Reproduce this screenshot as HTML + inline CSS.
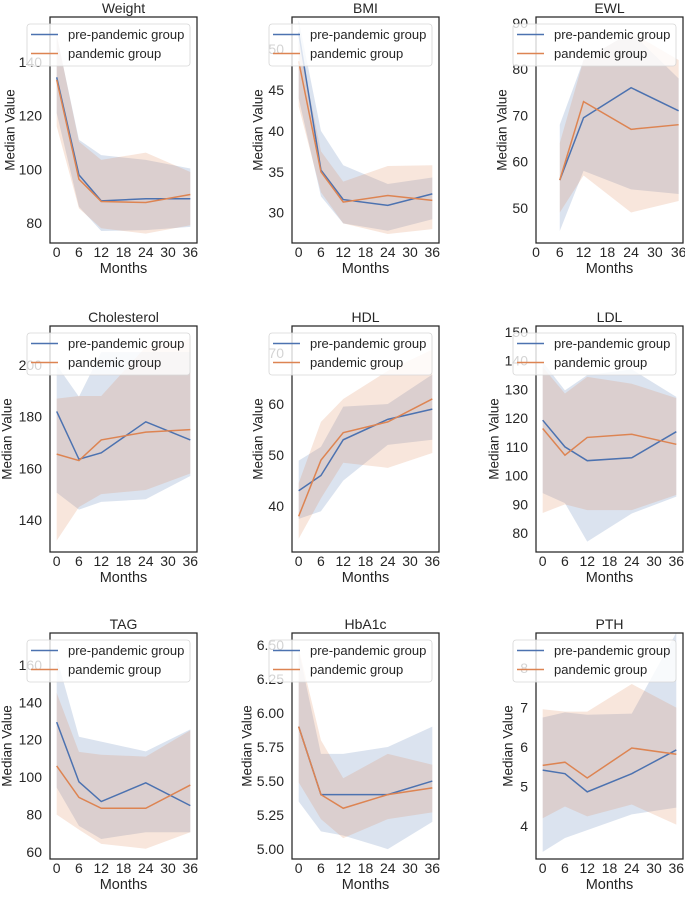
<!DOCTYPE html>
<html><head><meta charset="utf-8"><style>
html,body{margin:0;padding:0;background:#fff;}
svg{display:block;font-family:"Liberation Sans",Arial,sans-serif;}
</style></head><body>
<svg id="chart" width="685" height="897" viewBox="0 0 685 897" xmlns="http://www.w3.org/2000/svg"></svg>
<script>
const months = [0, 6, 12, 24, 36];
const ewlMonths = [6, 12, 24, 36];
const seriesNames = ["pre-pandemic group", "pandemic group"];

const weightPre = [134.3, 97.9, 88.2, 89, 89];
const weightPan = [133.4, 96.3, 88, 87.6, 90.6];
const weightPreHi = [150, 111, 105.3, 103.5, 100.3];
const weightPreLo = [121, 86, 77, 77.3, 78.5];
const weightPanHi = [150.2, 110.3, 103.5, 106.2, 99];
const weightPanLo = [116, 85.4, 78, 76, 79.1];
const weightTicks = [80, 100, 120, 140];

const bmiPre = [52, 35.2, 31.6, 30.9, 32.3];
const bmiPan = [48.5, 35, 31.3, 32.1, 31.5];
const bmiPreHi = [53.5, 40, 35.8, 33.5, 34.3];
const bmiPreLo = [44, 32, 28.7, 27.8, 29.2];
const bmiPanHi = [51, 37.5, 33.8, 35.7, 35.8];
const bmiPanLo = [43, 32.5, 28.7, 27.4, 28];
const bmiTicks = [30, 35, 40, 45, 50];

const ewlPre = [56, 69.5, 76, 71];
const ewlPan = [56, 73, 67, 68];
const ewlPreHi = [68, 82, 88, 78];
const ewlPreLo = [45, 58, 54, 53];
const ewlPanHi = [64, 82, 88, 82];
const ewlPanLo = [49, 57, 49, 51.5];
const ewlTicks = [50, 60, 70, 80, 90];

const cholPre = [182, 163.5, 166, 178, 171];
const cholPan = [165.5, 163, 171, 174, 175];
const cholPreHi = [200, 187.7, 205, 205, 205];
const cholPreLo = [150.6, 144, 147, 148, 157];
const cholPanHi = [187, 188, 188, 207, 210];
const cholPanLo = [132, 145, 150, 151.6, 158];
const cholTicks = [140, 160, 180, 200];

const hdlPre = [43, 46, 53, 57, 59];
const hdlPan = [38, 49, 54.4, 56.5, 61];
const hdlPreHi = [48.9, 51.6, 59.5, 60, 65.8];
const hdlPreLo = [37.5, 39, 45, 52, 53];
const hdlPanHi = [44.5, 56.5, 61, 66.5, 70.7];
const hdlPanLo = [33.6, 41.5, 48.5, 47.5, 50.4];
const hdlTicks = [40, 50, 60, 70];

const ldlPre = [119.3, 110, 105.2, 106.2, 115.3];
const ldlPan = [116.4, 107.1, 113.3, 114.4, 110.9];
const ldlPreHi = [139.6, 129.7, 135, 137, 127.4];
const ldlPreLo = [93.9, 90.4, 77, 86.8, 92.7];
const ldlPanHi = [137.8, 128.6, 134.4, 132, 127];
const ldlPanLo = [87, 90, 88, 88, 93.3];
const ldlTicks = [80, 90, 100, 110, 120, 130, 140, 150];

const tagPre = [129.4, 97.5, 87, 97, 84.8];
const tagPan = [106, 89.2, 83.4, 83.4, 95.8];
const tagPreHi = [164, 121.6, 119, 113.8, 125.5];
const tagPreLo = [94.5, 74, 67, 70.6, 70.6];
const tagPanHi = [145, 113.5, 112, 111, 125];
const tagPanLo = [80, 72, 64.4, 61.8, 70.6];
const tagTicks = [60, 80, 100, 120, 140, 160];

const hbaPre = [5.9, 5.4, 5.4, 5.4, 5.5];
const hbaPan = [5.9, 5.4, 5.3, 5.4, 5.45];
const hbaPreHi = [6.46, 5.7, 5.7, 5.75, 5.9];
const hbaPreLo = [5.35, 5.13, 5.1, 5.0, 5.2];
const hbaPanHi = [6.48, 5.8, 5.52, 5.7, 5.62];
const hbaPanLo = [5.49, 5.22, 5.08, 5.22, 5.27];
const hbaTicks = [5.0, 5.25, 5.5, 5.75, 6.0, 6.25, 6.5];

const pthPre = [5.42, 5.33, 4.87, 5.33, 5.93];
const pthPan = [5.54, 5.62, 5.22, 5.98, 5.82];
const pthPreHi = [6.75, 6.88, 6.82, 6.85, 8.9];
const pthPreLo = [3.35, 3.7, 3.9, 4.3, 4.47];
const pthPanHi = [6.96, 6.9, 6.9, 7.6, 7.0];
const pthPanLo = [4.2, 4.5, 4.25, 4.55, 4.04];
const pthTicks = [4, 5, 6, 7, 8];

const xTicks = [0, 6, 12, 18, 24, 30, 36];

const panels = [
 {title:"Weight", col:0,row:0, x:months, pre:weightPre, pan:weightPan, preHi:weightPreHi, preLo:weightPreLo, panHi:weightPanHi, panLo:weightPanLo, ticks:weightTicks, ylim:[72.5,156.8], xlim:[-1.8,37.8], yl:40, dec:0},
 {title:"BMI", col:1,row:0, x:months, pre:bmiPre, pan:bmiPan, preHi:bmiPreHi, preLo:bmiPreLo, panHi:bmiPanHi, panLo:bmiPanLo, ticks:bmiTicks, ylim:[26.3,53.9], xlim:[-1.8,37.8], yl:34, dec:0},
 {title:"EWL", col:2,row:0, x:ewlMonths, pre:ewlPre, pan:ewlPan, preHi:ewlPreHi, preLo:ewlPreLo, panHi:ewlPanHi, panLo:ewlPanLo, ticks:ewlTicks, ylim:[42.4,91.3], xlim:[0,37.1], yl:34, dec:0},
 {title:"Cholesterol", col:0,row:1, x:months, pre:cholPre, pan:cholPan, preHi:cholPreHi, preLo:cholPreLo, panHi:cholPanHi, panLo:cholPanLo, ticks:cholTicks, ylim:[127.6,215.1], xlim:[-1.8,37.8], yl:43, dec:0},
 {title:"HDL", col:1,row:1, x:months, pre:hdlPre, pan:hdlPan, preHi:hdlPreHi, preLo:hdlPreLo, panHi:hdlPanHi, panLo:hdlPanLo, ticks:hdlTicks, ylim:[31,75.3], xlim:[-1.8,37.8], yl:34, dec:0},
 {title:"LDL", col:2,row:1, x:months, pre:ldlPre, pan:ldlPan, preHi:ldlPreHi, preLo:ldlPreLo, panHi:ldlPanHi, panLo:ldlPanLo, ticks:ldlTicks, ylim:[73.4,152.1], xlim:[-1.8,37.8], yl:42, dec:0},
 {title:"TAG", col:0,row:2, x:months, pre:tagPre, pan:tagPan, preHi:tagPreHi, preLo:tagPreLo, panHi:tagPanHi, panLo:tagPanLo, ticks:tagTicks, ylim:[56.3,177], xlim:[-1.8,37.8], yl:43, dec:0},
 {title:"HbA1c", col:1,row:2, x:months, pre:hbaPre, pan:hbaPan, preHi:hbaPreHi, preLo:hbaPreLo, panHi:hbaPanHi, panLo:hbaPanLo, ticks:hbaTicks, ylim:[4.927,6.588], xlim:[-1.8,37.8], yl:45, dec:2},
 {title:"PTH", col:2,row:2, x:months, pre:pthPre, pan:pthPan, preHi:pthPreHi, preLo:pthPreLo, panHi:pthPanHi, panLo:pthPanLo, ticks:pthTicks, ylim:[3.17,8.89], xlim:[-1.8,37.8], yl:28, dec:0}
];

const colLeft = [50, 292, 536];
const rowTop = [17, 326, 633];
const W = 147, H = 226;
const BLUE = "#4c72b0", ORANGE = "#dd8452", TXT = "#262626";
const NS = "http://www.w3.org/2000/svg";
const svg = document.getElementById("chart");

function mk(tag, attrs, parent) {
  const e = document.createElementNS(NS, tag);
  for (const k in attrs) e.setAttribute(k, attrs[k]);
  (parent || svg).appendChild(e);
  return e;
}

panels.forEach(function(p, i) {
  const L = colLeft[p.col], T = rowTop[p.row];
  const g = mk("g", {});
  
  
  const xs = function(v){ return L + (v - p.xlim[0]) / (p.xlim[1] - p.xlim[0]) * W; };
  const ys = function(v){ return T + H - (v - p.ylim[0]) / (p.ylim[1] - p.ylim[0]) * H; };
  const clipId = "clip" + i;
  const cp = mk("clipPath", {id: clipId}, g);
  mk("rect", {x: L, y: T, width: W, height: H}, cp);

  p.ticks.forEach(function(t) {
    const tx = mk("text", {x: L - 8, y: ys(t) + 5, "text-anchor": "end", "font-size": "14", fill: TXT}, g);
    tx.textContent = p.dec ? t.toFixed(p.dec) : String(t);
    
    
  });
  xTicks.forEach(function(t) {
    const tx = mk("text", {x: xs(t), y: T + H + 14, "text-anchor": "middle", "font-size": "14", fill: TXT}, g);
    tx.textContent = String(t);
    
    
  });

  const plot = mk("g", {"clip-path": "url(#" + clipId + ")"}, g);
  function band(hi, lo, color, name) {
    let d = "";
    p.x.forEach(function(m, j){ d += (j ? "L" : "M") + xs(m).toFixed(2) + "," + ys(hi[j]).toFixed(2); });
    for (let j = p.x.length - 1; j >= 0; j--) d += "L" + xs(p.x[j]).toFixed(2) + "," + ys(lo[j]).toFixed(2);
    const e = mk("path", {d: d + "Z", fill: color, "fill-opacity": "0.2", stroke: "none"}, plot);
    
    
  }
  function line(vals, color, name) {
    const pts = p.x.map(function(m, j){ return xs(m).toFixed(2) + "," + ys(vals[j]).toFixed(2); }).join(" ");
    const e = mk("polyline", {points: pts, fill: "none", stroke: color, "stroke-width": "1.5"}, plot);
    
    
  }
  band(p.preHi, p.preLo, BLUE, 'pre-pandemic-band');
  band(p.panHi, p.panLo, ORANGE, 'pandemic-band');
  line(p.pre, BLUE, 'pre-pandemic-line');
  line(p.pan, ORANGE, 'pandemic-line');

  const frame = mk("rect", {x: L, y: T, width: W, height: H, fill: "none", stroke: TXT, "stroke-width": "1.25"}, g);
  
  

  const title = mk("text", {x: L + W / 2, y: T - 4, "text-anchor": "middle", "font-size": "14", fill: TXT}, g);
  title.textContent = p.title;
  
  

  const xl = mk("text", {x: L + W / 2, y: T + H + 30, "text-anchor": "middle", "font-size": "14.5", fill: TXT}, g);
  xl.textContent = "Months";
  
  

  const ylx = L - p.yl, yly = T + H / 2;
  const yl = mk("text", {x: ylx, y: yly, "text-anchor": "middle", "font-size": "13.5", fill: TXT, transform: "rotate(-90 " + ylx + " " + yly + ")", dy: "4.5"}, g);
  yl.textContent = "Median Value";
  
  

  const lg = mk("g", {}, g);
  
  
  const lx = L + W - 7 - 163, ly = T + 7;
  mk("rect", {x: lx, y: ly, width: 163, height: 42, rx: 3, fill: "#fff", "fill-opacity": "0.8", stroke: "#d6d6d6", "stroke-width": "0.8"}, lg);
  [BLUE, ORANGE].forEach(function(c, k) {
    const yy = ly + 10.5 + k * 19;
    const ent = mk("g", {}, lg);
    
    
    mk("line", {x1: lx + 4, x2: lx + 31, y1: yy, y2: yy, stroke: c, "stroke-width": "1.5"}, ent);
    const t = mk("text", {x: lx + 41, y: yy + 4.5, "font-size": "13", fill: TXT}, ent);
    t.textContent = seriesNames[k];
  });
});
</script>
</body></html>
